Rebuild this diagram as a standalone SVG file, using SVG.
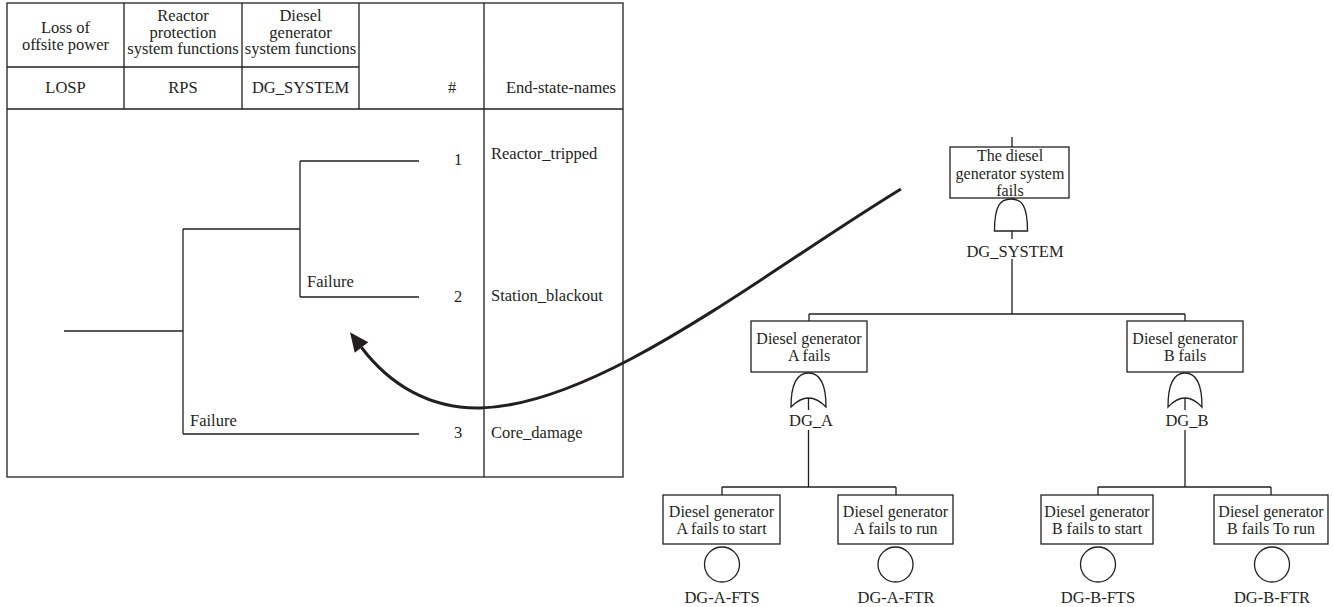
<svg xmlns="http://www.w3.org/2000/svg" width="1333" height="607" viewBox="0 0 1333 607">
<defs>
<style>
text{font-family:"Liberation Serif","Times New Roman",serif;font-size:16.5px;fill:#231f20}
.c{text-anchor:middle}
.s{font-size:16px}
.ln{stroke:#231f20;stroke-width:1.3;fill:none}
.box{stroke:#231f20;stroke-width:1.3;fill:#fff}
.gate{stroke:#231f20;stroke-width:1.3;fill:#fff}
.arrow{stroke:#231f20;stroke-width:3;fill:none}
</style>
<marker id="ah" markerUnits="userSpaceOnUse" markerWidth="22" markerHeight="20" refX="0" refY="0" viewBox="0 -10 22 20" orient="auto" overflow="visible">
<path d="M0,-8.5 L19,0 L0,8.5 z" fill="#231f20"/>
</marker>
</defs>
<rect width="1333" height="607" fill="#fff"/>

<g id="event-tree-table">
<rect x="7" y="3" width="616" height="474" class="ln"/>
<path class="ln" d="M124,3 V109 M242,3 V109 M359,3 V109 M484,3 V477 M7,67 H359 M7,109 H623"/>
<text class="c" x="65.5" y="33">Loss of</text>
<text class="c" x="65.5" y="50">offsite power</text>
<text class="c" x="183" y="21">Reactor</text>
<text class="c" x="183" y="37.5">protection</text>
<text class="c" x="183" y="54">system functions</text>
<text class="c" x="300.5" y="21">Diesel</text>
<text class="c" x="300.5" y="37.5">generator</text>
<text class="c" x="300.5" y="54">system functions</text>
<text class="c" x="65.5" y="93">LOSP</text>
<text class="c" x="183" y="93">RPS</text>
<text class="c" x="300.5" y="93">DG_SYSTEM</text>
<text class="c" x="452" y="93">#</text>
<text class="c" x="561" y="93">End-state-names</text>
</g>

<g id="event-tree-branches">
<path class="ln" d="M64,331 H183 M183,229 V434 M183,229 H300 M300,161 V297 M300,161 H419 M300,297 H419 M183,434 H419"/>
<text x="307" y="287">Failure</text>
<text x="190" y="426">Failure</text>
</g>

<g id="end-states">
<text class="c" x="458" y="165">1</text>
<text class="c" x="458" y="302">2</text>
<text class="c" x="458" y="438">3</text>
<text x="491" y="159">Reactor_tripped</text>
<text x="491" y="301">Station_blackout</text>
<text x="491" y="438">Core_damage</text>
</g>

<g id="connectors">
<path class="ln" d="M1012,137 V147 M1012,231 V239 M1012,259 V314 M809,314 H1185 M809,314 V321 M1185,314 V321"/>
<path class="ln" d="M808.5,398 V410 M808.5,430 V487 M722,487 H896 M722,487 V495 M896,487 V495"/>
<path class="ln" d="M1185,398 V410 M1185,430 V487 M1098,487 H1271 M1098,487 V495 M1271,487 V495"/>
<path class="arrow" marker-end="url(#ah)" d="M901,189 C760,275 600,405 480,408 C430,409 390,385 361.5,347.5"/>
</g>

<g id="dg-system">
<rect x="950" y="147" width="119" height="51" class="box"/>
<text class="c s" x="1010" y="161">The diesel</text>
<text class="c s" x="1010" y="179">generator system</text>
<text class="c s" x="1010" y="196">fails</text>
<path class="gate" d="M994.5,231 C994.5,206 1000,199 1011,199 C1022,199 1027.5,206 1027.5,231 Z"/>
<text class="c" x="1015" y="257">DG_SYSTEM</text>
</g>

<g id="dg-a">
<rect x="751" y="321" width="116" height="51" class="box"/>
<text class="c s" x="809" y="344">Diesel generator</text>
<text class="c s" x="809" y="361">A fails</text>
<path class="gate" d="M791,407 C791,385 797,373 808.5,373 C820,373 826,385 826,407 Q808.5,389 791,407 Z"/>
<text class="c" x="811" y="426">DG_A</text>
</g>

<g id="dg-b">
<rect x="1127" y="321" width="116" height="51" class="box"/>
<text class="c s" x="1185" y="344">Diesel generator</text>
<text class="c s" x="1185" y="361">B fails</text>
<path class="gate" d="M1168,407 C1168,385 1174,373 1185,373 C1196,373 1202,385 1202,407 Q1185,389 1168,407 Z"/>
<text class="c" x="1187" y="426">DG_B</text>
</g>

<g id="dg-a-fts">
<rect x="663" y="495" width="117" height="49" class="box"/>
<text class="c s" x="721.5" y="517">Diesel generator</text>
<text class="c s" x="721.5" y="534">A fails to start</text>
<circle cx="722" cy="564.5" r="17.5" class="gate"/>
<text class="c" x="722" y="603">DG-A-FTS</text>
</g>

<g id="dg-a-ftr">
<rect x="838" y="495" width="115" height="49" class="box"/>
<text class="c s" x="895.5" y="517">Diesel generator</text>
<text class="c s" x="895.5" y="534">A fails to run</text>
<circle cx="895.5" cy="564.5" r="17.5" class="gate"/>
<text class="c" x="896" y="603">DG-A-FTR</text>
</g>

<g id="dg-b-fts">
<rect x="1041" y="495" width="112" height="49" class="box"/>
<text class="c s" x="1097" y="517">Diesel generator</text>
<text class="c s" x="1097" y="534">B fails to start</text>
<circle cx="1098" cy="564.5" r="17.5" class="gate"/>
<text class="c" x="1098" y="603">DG-B-FTS</text>
</g>

<g id="dg-b-ftr">
<rect x="1214" y="495" width="114" height="49" class="box"/>
<text class="c s" x="1271" y="517">Diesel generator</text>
<text class="c s" x="1271" y="534">B fails To run</text>
<circle cx="1272" cy="564.5" r="17.5" class="gate"/>
<text class="c" x="1272" y="603">DG-B-FTR</text>
</g>
</svg>
